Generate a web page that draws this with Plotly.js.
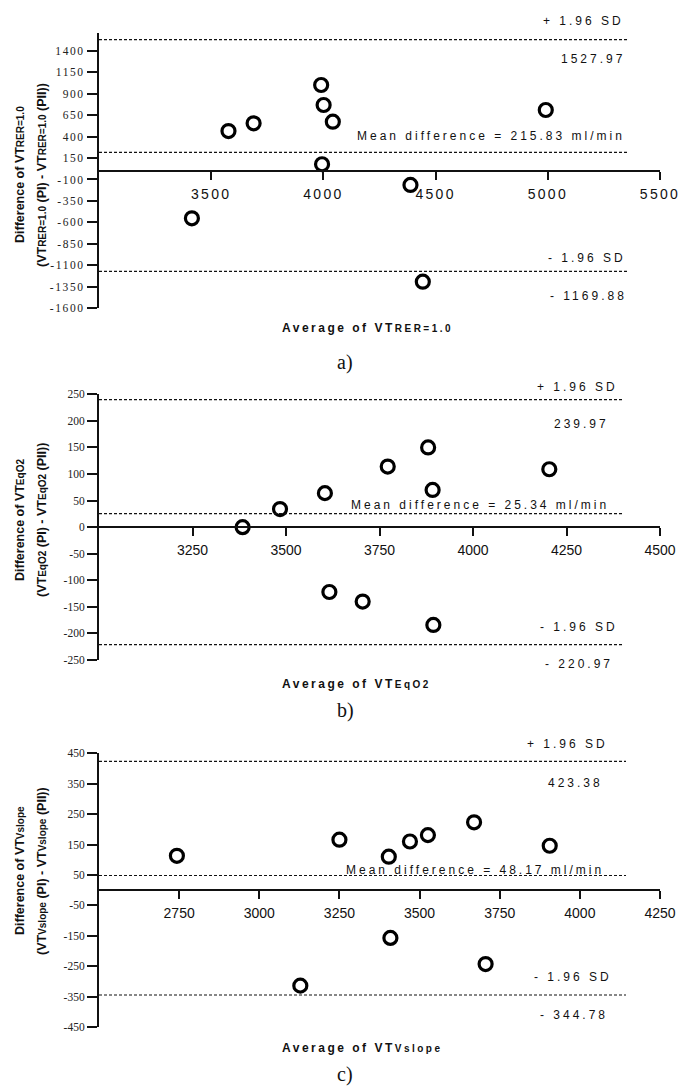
<!DOCTYPE html>
<html><head><meta charset="utf-8">
<script src="https://cdn.plot.ly/plotly-3.0.1.min.js"></script>
<style>
body{margin:0;background:#fff}
#chart{width:681px;height:1092px}
.xtick text{letter-spacing:2.3px}
.ytick text{letter-spacing:1.6px}
</style></head><body><div id="chart"></div>
<script>
// ---- data ----
// a) VT RER=1.0
const avgA  = [3414, 3577, 3689, 3990, 4001, 4042, 3994, 4388, 4991, 4443];
const diffA = [-552, 464, 554, 1000, 767, 573, 77, -164, 709, -1290];
// b) VT EqO2
const avgB  = [3384, 3484, 3604, 3616, 3772, 3880, 3892, 4204, 3705, 3894];
const diffB = [0, 34, 64, -122, 114, 150, 70, 109, -140, -184];
// c) VT Vslope
const avgC  = [2743, 3128, 3250, 3404, 3470, 3526, 3670, 3906, 3409, 3706];
const diffC = [113, -314, 166, 110, 160, 181, 223, 146, -157, -243];

const meanDiff = [215.83, 25.34, 48.17];
const upperLoA = [1527.97, 239.97, 423.38];
const lowerLoA = [-1169.88, -220.97, -344.78];

const xTicksA = [3500, 4000, 4500, 5000, 5500];
const xTicksB = [3250, 3500, 3750, 4000, 4250, 4500];
const xTicksC = [2750, 3000, 3250, 3500, 3750, 4000, 4250];
const yTicksA = [1400, 1150, 900, 650, 400, 150, -100, -350, -600, -850, -1100, -1350, -1600];
const yTicksB = [250, 200, 150, 100, 50, 0, -50, -100, -150, -200, -250];
const yTicksC = [450, 350, 250, 150, 50, -50, -150, -250, -350, -450];

const subNames = ['RER=1.0', 'EqO2', 'Vslope'];
const panelTags = ['a)', 'b)', 'c)'];

// ---- layout helpers ----
const W = 681, H = 1092;
const px = v => v / W;
const py = v => 1 - v / H;
const SUB = s => '<span style="font-size:10px">' + s + '</span>';
const fmt = v => (v < 0 ? '- ' : '') + Math.abs(v).toFixed(2);

const panels = [
  {x: avgA, y: diffA, xr: [3000, 5500], yr: [-1600, 1602], top: 33.3, bot: 308.3, xt: xTicksA, yt: yTicksA, lineEnd: 5357,
   lab: {sdUp: [623, 20.7], up: [625, 59], mean: [624, 136], sdLo: [625, 257.7], lo: [626, 296]},
   yTitle: [20, 42, 175], xTitleY: 327.7, tagY: 363},
  {x: avgB, y: diffB, xr: [3000, 4500], yr: [-250, 250], top: 394.3, bot: 660, xt: xTicksB, yt: yTicksB, lineEnd: 4401,
   lab: {sdUp: [617, 386.7], up: [608, 424.3], mean: [608, 505], sdLo: [617, 626.7], lo: [612, 664.3]},
   yTitle: [20, 42, 520], xTitleY: 683.7, tagY: 710},
  {x: avgC, y: diffC, xr: [2500, 4250], yr: [-450, 450], top: 753.3, bot: 1027, xt: xTicksC, yt: yTicksC, lineEnd: 4144,
   lab: {sdUp: [607, 744], up: [602, 782.7], mean: [603, 870], sdLo: [611, 976.7], lo: [607, 1015]},
   yTitle: [20, 42, 871], xTitleY: 1047.7, tagY: 1074}
];

const traces = [], shapes = [], annotations = [], spacing = [];
const layout = {
  width: W, height: H, margin: {l: 0, r: 0, t: 0, b: 0},
  paper_bgcolor: '#fff', plot_bgcolor: 'rgba(0,0,0,0)', showlegend: false,
  font: {family: 'Liberation Sans, Arial, sans-serif', color: '#111'}
};
const labFont = {family: 'Liberation Sans, Arial, sans-serif', size: 12, color: '#111'};

function addAnn(text, x, y, opts, sp) {
  annotations.push(Object.assign({text, x: px(x), y: py(y), xref: 'paper', yref: 'paper',
    showarrow: false, yanchor: 'middle'}, opts));
  spacing.push(sp || 0);
}

panels.forEach((p, i) => {
  const n = i === 0 ? '' : String(i + 1);
  const d0 = 1 - p.bot / H, d1 = 1 - p.top / H;
  const pos = d0 + (0 - p.yr[0]) / (p.yr[1] - p.yr[0]) * (d1 - d0);
  layout['xaxis' + n] = {
    domain: [px(99), px(660)], range: p.xr, anchor: 'free', position: pos,
    showline: true, linecolor: '#111', linewidth: 2, ticks: 'outside', ticklen: 8, tickwidth: 2, tickcolor: '#111',
    tickvals: p.xt, ticktext: p.xt.map(String), ticklabelstandoff: 2,
    tickfont: {family: 'Liberation Sans, Arial, sans-serif', size: 14, color: '#111'},
    showgrid: false, zeroline: false, fixedrange: true
  };
  layout['yaxis' + n] = {
    domain: [d0, d1], range: p.yr, anchor: 'x' + n,
    showline: true, linecolor: '#111', linewidth: 2, ticks: 'outside', ticklen: 10, tickwidth: 2, tickcolor: '#111',
    tickvals: p.yt, ticktext: p.yt.map(String),
    tickfont: {family: 'Liberation Serif', size: 11.5, color: '#222'},
    showgrid: false, zeroline: false, fixedrange: true
  };
  traces.push({
    type: 'scatter', mode: 'markers', x: p.x, y: p.y, xaxis: 'x' + n, yaxis: 'y' + n, cliponaxis: false,
    marker: {symbol: 'circle-open', size: 13, color: '#000', line: {width: 3.2, color: '#000'}},
    hoverinfo: 'skip'
  });
  [upperLoA[i], meanDiff[i], lowerLoA[i]].forEach(v => {
    shapes.push({type: 'line', xref: 'x' + n, yref: 'y' + n, x0: p.xr[0], x1: p.lineEnd, y0: v, y1: v,
      line: {color: '#111', width: 1.2, dash: '3px,2px'}});
  });
  const R = {xanchor: 'right', align: 'right', font: labFont};
  addAnn('+ 1.96 SD', p.lab.sdUp[0] + 3, p.lab.sdUp[1], R, 3);
  addAnn(fmt(upperLoA[i]), p.lab.up[0] + 3, p.lab.up[1], R, 3);
  addAnn('Mean difference = ' + meanDiff[i].toFixed(2) + ' ml/min', p.lab.mean[0] + 3, p.lab.mean[1], R, 3);
  addAnn('- 1.96 SD', p.lab.sdLo[0] + 3, p.lab.sdLo[1], R, 3);
  addAnn(fmt(lowerLoA[i]), p.lab.lo[0] + 3, p.lab.lo[1], R, 3);
  // x title
  addAnn('<b>Average of VT' + SUB(subNames[i]) + '</b>', 280, p.xTitleY,
    {xanchor: 'left', align: 'left', font: {family: 'Liberation Sans, Arial, sans-serif', size: 12, color: '#111'}}, 2.5);
  // panel tag
  addAnn(panelTags[i], 345, p.tagY,
    {xanchor: 'center', font: {family: 'Liberation Serif, Times New Roman, serif', size: 20, color: '#111'}}, 0);
  // y title (two lines)
  const yf = {family: 'Liberation Sans Narrow, Arial Narrow, Liberation Sans, sans-serif', size: 12.5, color: '#111'};
  addAnn('<b>Difference of VT' + SUB(subNames[i]) + '</b>', p.yTitle[0], p.yTitle[2],
    {xanchor: 'center', textangle: -90, font: yf}, 0);
  addAnn('<b>(VT' + SUB(subNames[i]) + ' (PI) - VT' + SUB(subNames[i]) + ' (PII))</b>', p.yTitle[1], p.yTitle[2],
    {xanchor: 'center', textangle: -90, font: yf}, 0);
});
layout.shapes = shapes;
layout.annotations = annotations;

Plotly.newPlot('chart', traces, layout, {staticPlot: true, displayModeBar: false}).then(() => {
  document.querySelectorAll('g.annotation').forEach(g => {
    const i = +g.getAttribute('data-index');
    const t = g.querySelector('.annotation-text');
    if (t && spacing[i]) t.style.letterSpacing = spacing[i] + 'px';
  });
});
</script></body></html>
